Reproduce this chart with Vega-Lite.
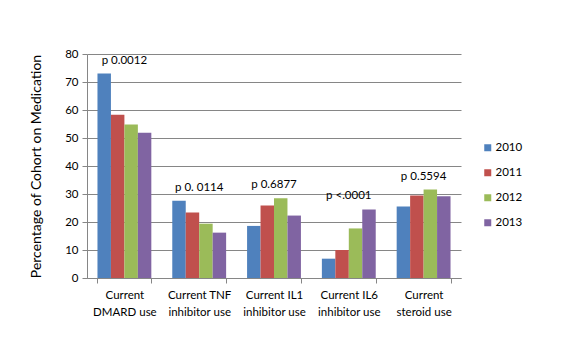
{
  "$schema": "https://vega.github.io/schema/vega-lite/v6.json",
  "width": 374,
  "height": 224,
  "autosize": "none",
  "padding": {"left": 87, "top": 54, "right": 110, "bottom": 75},
  "background": "white",
  "config": {
    "font": "Lato",
    "view": {"stroke": null},
    "axis": {"labelFont": "Lato", "titleFont": "Lato", "labelColor": "#000", "titleColor": "#000"},
    "axisY": {
      "titleFontSize": 14,
      "titleFontWeight": "normal",
      "titlePadding": 21,
      "values": [0, 10, 20, 30, 40, 50, 60, 70, 80],
      "labelFontSize": 11.5,
      "labelPadding": 4,
      "tickSize": 5,
      "tickColor": "#868686",
      "domainColor": "#868686",
      "gridColor": "#868686",
      "grid": true,
      "labelOverlap": false
    }
  },
  "data": {
    "values": [
      {"category": "Current|DMARD use", "year": "2010", "value": 73.0, "p": "p 0.0012"},
      {"category": "Current|DMARD use", "year": "2011", "value": 58.3, "p": "p 0.0012"},
      {"category": "Current|DMARD use", "year": "2012", "value": 54.8, "p": "p 0.0012"},
      {"category": "Current|DMARD use", "year": "2013", "value": 51.9, "p": "p 0.0012"},
      {"category": "Current TNF|inhibitor use", "year": "2010", "value": 27.6, "p": "p 0. 0114"},
      {"category": "Current TNF|inhibitor use", "year": "2011", "value": 23.4, "p": "p 0. 0114"},
      {"category": "Current TNF|inhibitor use", "year": "2012", "value": 19.4, "p": "p 0. 0114"},
      {"category": "Current TNF|inhibitor use", "year": "2013", "value": 16.2, "p": "p 0. 0114"},
      {"category": "Current IL1|inhibitor use", "year": "2010", "value": 18.6, "p": "p 0.6877"},
      {"category": "Current IL1|inhibitor use", "year": "2011", "value": 25.9, "p": "p 0.6877"},
      {"category": "Current IL1|inhibitor use", "year": "2012", "value": 28.5, "p": "p 0.6877"},
      {"category": "Current IL1|inhibitor use", "year": "2013", "value": 22.3, "p": "p 0.6877"},
      {"category": "Current IL6|inhibitor use", "year": "2010", "value": 6.9, "p": "p <.0001"},
      {"category": "Current IL6|inhibitor use", "year": "2011", "value": 10.0, "p": "p <.0001"},
      {"category": "Current IL6|inhibitor use", "year": "2012", "value": 17.7, "p": "p <.0001"},
      {"category": "Current IL6|inhibitor use", "year": "2013", "value": 24.5, "p": "p <.0001"},
      {"category": "Current|steroid use", "year": "2010", "value": 25.5, "p": "p 0.5594"},
      {"category": "Current|steroid use", "year": "2011", "value": 29.5, "p": "p 0.5594"},
      {"category": "Current|steroid use", "year": "2012", "value": 31.6, "p": "p 0.5594"},
      {"category": "Current|steroid use", "year": "2013", "value": 29.2, "p": "p 0.5594"}
    ]
  },
  "encoding": {
    "x": {
      "field": "category",
      "type": "nominal",
      "sort": null,
      "scale": {"paddingInner": 0.28, "paddingOuter": 0.14},
      "axis": {
        "title": null,
        "labelAngle": 0,
        "labelExpr": "split(datum.label, '|')",
        "labelFontSize": 11.5,
        "labelLineHeight": 17,
        "labelPadding": 6,
        "tickBand": "extent",
        "tickColor": "#868686",
        "tickSize": 5,
        "domainColor": "#868686",
        "labelLimit": 0
      }
    }
  },
  "layer": [
    {
      "mark": {"type": "bar"},
      "encoding": {
        "xOffset": {"field": "year", "type": "nominal", "scale": {"paddingInner": 0, "paddingOuter": 0}},
        "y": {
          "field": "value",
          "type": "quantitative",
          "scale": {"domain": [0, 80], "nice": false},
          "axis": {"title": "Percentage of Cohort on Medication"}
        },
        "color": {
          "field": "year",
          "type": "nominal",
          "scale": {"range": ["#4F81BD", "#C0504D", "#9BBB59", "#8064A2"]},
          "legend": {
            "title": null,
            "orient": "none",
            "legendX": 395,
            "legendY": 88,
            "symbolType": "square",
            "symbolSize": 49,
            "symbolStrokeWidth": 0,
            "labelFontSize": 11.5,
            "labelOffset": 2,
            "rowPadding": 12,
            "padding": 0
          }
        }
      }
    },
    {
      "mark": {"type": "text", "dy": -13, "fontSize": 11.5, "color": "#000", "baseline": "middle"},
      "encoding": {
        "y": {"aggregate": "max", "field": "value", "type": "quantitative", "axis": {"title": "Percentage of Cohort on Medication"}},
        "text": {"field": "p", "type": "nominal"}
      }
    }
  ]
}
